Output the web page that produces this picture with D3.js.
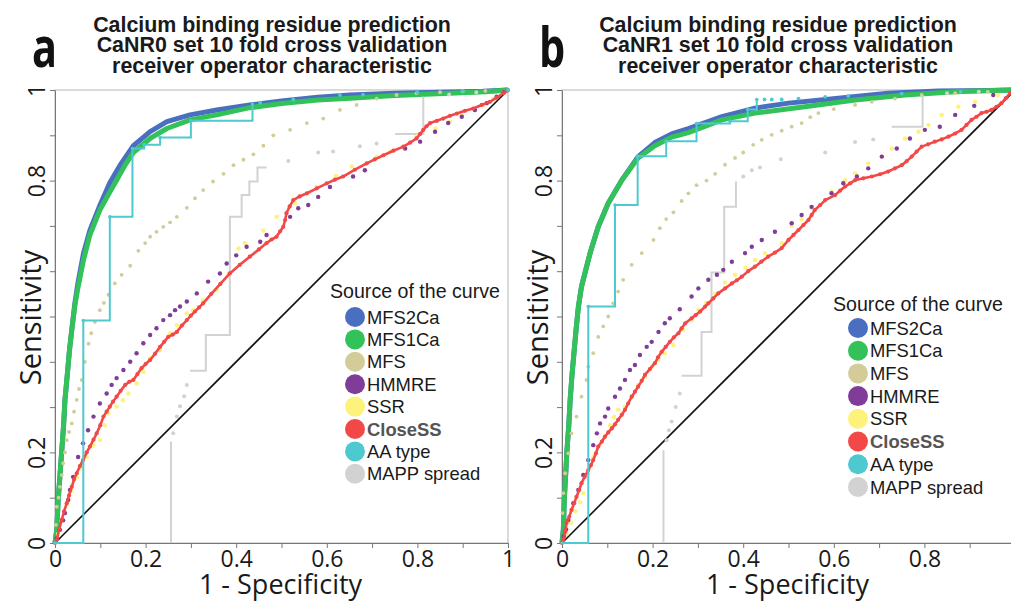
<!DOCTYPE html>
<html>
<head>
<meta charset="utf-8">
<script src="https://cdn.jsdelivr.net/npm/d3@7"></script>
<style>
	body { margin: 0; background: #fff; }
	svg { display: block; }
</style>
</head>
<body>
<svg id="chart" width="1011" height="601"></svg>
<script>
// Legend entries and their colours
const sources = ['MFS2Ca', 'MFS1Ca', 'MFS', 'HMMRE', 'SSR', 'CloseSS', 'AA type', 'MAPP spread'];
const palette = ['#4a6fc1', '#33c25a', '#d3cc98', '#7f3c98', '#fdf27a', '#f34848', '#4fc9d0', '#d2d2d2'];
const tickValues = [0, 0.1, 0.2, 0.3, 0.4, 0.5, 0.6, 0.7, 0.8, 0.9, 1];
const xTickLabels = [0, 0.2, 0.4, 0.6, 0.8, 1];
// 0.4 and 0.6 sit under the axis title in the original, so they are not printed
const yTickLabels = [0, 0.2, 0.8, 1];

// ---- panel a : CaNR0 ----  [1 - specificity, sensitivity]
const a_MFS2Ca = [[0,0],[0.004,0.03],[0.007,0.095],[0.011,0.15],[0.015,0.205],[0.019,0.26],[0.022,0.316],[0.027,0.37],[0.032,0.426],[0.037,0.47],[0.044,0.53],[0.05,0.57],[0.063,0.64],[0.077,0.69],[0.099,0.745],[0.121,0.795],[0.143,0.833],[0.173,0.877],[0.21,0.908],[0.247,0.93],[0.298,0.945],[0.357,0.956],[0.43,0.967],[0.5,0.976],[0.58,0.984],[0.651,0.989],[0.75,0.993],[0.85,0.995],[0.945,0.997],[1,1]];
const a_MFS1Ca = [[0,0],[0.004,0.03],[0.007,0.095],[0.011,0.15],[0.015,0.205],[0.019,0.26],[0.022,0.316],[0.027,0.37],[0.032,0.426],[0.037,0.47],[0.044,0.525],[0.05,0.56],[0.063,0.625],[0.077,0.68],[0.099,0.735],[0.121,0.775],[0.136,0.801],[0.155,0.835],[0.173,0.862],[0.21,0.893],[0.247,0.915],[0.298,0.934],[0.357,0.945],[0.43,0.961],[0.5,0.97],[0.58,0.978],[0.651,0.982],[0.75,0.988],[0.872,0.993],[0.95,0.996],[1,1]];
const a_MFS = [[0.002,0.04],[0.004,0.08],[0.008,0.1],[0.011,0.124],[0.015,0.15],[0.018,0.176],[0.022,0.2],[0.026,0.227],[0.031,0.245],[0.037,0.264],[0.042,0.29],[0.048,0.316],[0.053,0.34],[0.059,0.36],[0.066,0.4],[0.074,0.44],[0.08,0.463],[0.088,0.488],[0.099,0.514],[0.108,0.53],[0.118,0.548],[0.132,0.573],[0.147,0.592],[0.166,0.612],[0.184,0.645],[0.199,0.662],[0.21,0.676],[0.224,0.687],[0.239,0.698],[0.254,0.708],[0.269,0.72],[0.291,0.74],[0.309,0.761],[0.327,0.779],[0.349,0.798],[0.372,0.815],[0.394,0.834],[0.416,0.846],[0.438,0.858],[0.46,0.877],[0.482,0.9],[0.519,0.912],[0.556,0.927],[0.592,0.937],[0.629,0.956],[0.666,0.967],[0.71,0.981],[0.754,0.989],[0.798,0.993],[0.85,0.995],[0.9,0.997],[0.95,0.998]];
const a_HMMRE = [[0.004,0.01],[0.011,0.029],[0.018,0.05],[0.022,0.066],[0.029,0.095],[0.033,0.117],[0.04,0.146],[0.051,0.19],[0.062,0.22],[0.073,0.249],[0.085,0.279],[0.099,0.308],[0.114,0.33],[0.125,0.349],[0.136,0.364],[0.151,0.382],[0.166,0.4],[0.18,0.419],[0.195,0.441],[0.21,0.459],[0.224,0.474],[0.239,0.492],[0.254,0.503],[0.265,0.514],[0.276,0.522],[0.291,0.533],[0.313,0.551],[0.338,0.577],[0.364,0.595],[0.379,0.617],[0.4,0.635],[0.423,0.654],[0.453,0.665],[0.467,0.68],[0.519,0.72],[0.537,0.739],[0.559,0.746],[0.581,0.764],[0.607,0.786],[0.658,0.809],[0.684,0.823],[0.773,0.871],[0.806,0.886],[0.839,0.908],[0.868,0.927],[0.898,0.941],[0.927,0.956],[0.953,0.971],[0.975,0.985],[0.99,0.995]];
const a_SSR = [[0.007,0.02],[0.015,0.05],[0.026,0.085],[0.037,0.115],[0.048,0.145],[0.058,0.165],[0.07,0.19],[0.085,0.215],[0.099,0.227],[0.11,0.26],[0.118,0.286],[0.136,0.301],[0.15,0.315],[0.162,0.33],[0.18,0.352],[0.195,0.378],[0.21,0.408],[0.232,0.426],[0.254,0.463],[0.269,0.481],[0.291,0.507],[0.305,0.514],[0.327,0.536],[0.357,0.558],[0.383,0.595],[0.405,0.65],[0.419,0.662],[0.46,0.69],[0.489,0.72],[0.53,0.75],[0.578,0.786],[0.62,0.81],[0.655,0.831],[0.71,0.853],[0.74,0.864],[0.798,0.897],[0.84,0.915],[0.872,0.93],[0.898,0.945],[0.945,0.967],[0.968,0.981],[0.99,0.995]];
const a_CloseSS = [[0,0],[0.004,0.007],[0.009,0.03],[0.015,0.051],[0.02,0.07],[0.026,0.088],[0.031,0.105],[0.037,0.124],[0.042,0.14],[0.048,0.154],[0.055,0.17],[0.062,0.183],[0.07,0.2],[0.077,0.213],[0.085,0.228],[0.092,0.242],[0.1,0.26],[0.107,0.279],[0.114,0.29],[0.121,0.301],[0.128,0.312],[0.136,0.323],[0.145,0.336],[0.155,0.349],[0.164,0.356],[0.173,0.36],[0.182,0.373],[0.191,0.386],[0.2,0.395],[0.21,0.404],[0.221,0.418],[0.232,0.433],[0.241,0.444],[0.25,0.455],[0.26,0.46],[0.269,0.466],[0.28,0.48],[0.291,0.492],[0.3,0.502],[0.309,0.511],[0.318,0.52],[0.327,0.529],[0.345,0.55],[0.365,0.572],[0.386,0.595],[0.408,0.614],[0.43,0.632],[0.45,0.648],[0.467,0.662],[0.478,0.67],[0.489,0.676],[0.497,0.688],[0.504,0.698],[0.508,0.713],[0.511,0.728],[0.518,0.743],[0.526,0.757],[0.54,0.765],[0.556,0.772],[0.578,0.783],[0.6,0.794],[0.618,0.802],[0.636,0.809],[0.662,0.824],[0.688,0.838],[0.706,0.847],[0.725,0.856],[0.747,0.866],[0.769,0.875],[0.784,0.884],[0.798,0.893],[0.806,0.903],[0.813,0.912],[0.82,0.92],[0.828,0.927],[0.843,0.932],[0.857,0.937],[0.872,0.943],[0.887,0.948],[0.905,0.954],[0.923,0.959],[0.942,0.967],[0.96,0.974],[0.975,0.983],[0.99,0.993],[1,1]];
const a_AAtype = [[0,0],[0.0625,0.491],[0.121,0.72],[0.171,0.871],[0.197,0.879],[0.232,0.895],[0.3,0.932],[0.436,0.969]];
const a_AAtypeDots = [[0.453,0.972],[0.526,0.979],[0.629,0.989],[0.68,0.99],[0.8,0.995],[0.9,0.998],[1,1]];
const a_MAPPsteps = [
	[[0.256,0],[0.256,0.224]],
	[[0.298,0.38],[0.333,0.459],[0.386,0.72],[0.412,0.768],[0.429,0.798],[0.447,0.829],[0.467,0.829]],
	[[0.751,0.903],[0.813,0.985]],
];
const a_MAPPdots = [[0.261,0.242],[0.269,0.279],[0.276,0.302],[0.285,0.324],[0.291,0.349],[0.515,0.843],[0.581,0.862],[0.614,0.864],[0.673,0.876],[0.71,0.882],[0.87,0.99],[0.93,0.995]];

// ---- panel b : CaNR1 ----
const b_MFS2Ca = [[0,0],[0.003,0.03],[0.005,0.095],[0.008,0.15],[0.011,0.205],[0.015,0.26],[0.018,0.316],[0.022,0.37],[0.027,0.426],[0.031,0.47],[0.036,0.52],[0.043,0.566],[0.062,0.64],[0.08,0.698],[0.102,0.75],[0.132,0.801],[0.168,0.853],[0.205,0.884],[0.242,0.903],[0.279,0.915],[0.353,0.941],[0.426,0.96],[0.5,0.971],[0.61,0.982],[0.72,0.993],[0.831,0.998],[0.94,0.999],[1,1]];
const b_MFS1Ca = [[0,0],[0.003,0.03],[0.005,0.095],[0.008,0.15],[0.011,0.205],[0.015,0.26],[0.018,0.316],[0.022,0.37],[0.027,0.426],[0.031,0.47],[0.036,0.52],[0.043,0.566],[0.062,0.64],[0.08,0.698],[0.102,0.75],[0.132,0.801],[0.168,0.85],[0.205,0.877],[0.242,0.896],[0.279,0.906],[0.353,0.934],[0.426,0.949],[0.536,0.963],[0.647,0.978],[0.757,0.989],[0.868,0.996],[1,1]];
const b_MFS = [[0.001,0.066],[0.003,0.11],[0.007,0.154],[0.014,0.198],[0.021,0.242],[0.032,0.279],[0.043,0.323],[0.054,0.36],[0.058,0.389],[0.069,0.419],[0.08,0.455],[0.091,0.478],[0.102,0.5],[0.113,0.529],[0.124,0.555],[0.135,0.581],[0.154,0.614],[0.176,0.64],[0.202,0.669],[0.216,0.695],[0.23,0.715],[0.246,0.73],[0.264,0.755],[0.279,0.772],[0.297,0.79],[0.319,0.8],[0.338,0.815],[0.36,0.835],[0.382,0.85],[0.4,0.862],[0.422,0.879],[0.441,0.89],[0.463,0.901],[0.485,0.91],[0.507,0.919],[0.529,0.927],[0.548,0.94],[0.566,0.949],[0.6,0.958],[0.647,0.967],[0.684,0.974],[0.735,0.981],[0.794,0.989],[0.868,0.993],[0.94,0.996]];
const b_HMMRE = [[0.004,0.015],[0.009,0.03],[0.014,0.051],[0.025,0.088],[0.036,0.117],[0.047,0.15],[0.058,0.183],[0.069,0.216],[0.077,0.242],[0.084,0.264],[0.095,0.279],[0.102,0.297],[0.117,0.323],[0.128,0.341],[0.139,0.36],[0.15,0.382],[0.161,0.393],[0.172,0.415],[0.187,0.433],[0.198,0.444],[0.213,0.466],[0.227,0.485],[0.238,0.496],[0.26,0.516],[0.286,0.544],[0.301,0.562],[0.323,0.581],[0.342,0.592],[0.356,0.603],[0.375,0.621],[0.404,0.64],[0.419,0.654],[0.441,0.669],[0.47,0.687],[0.507,0.706],[0.529,0.724],[0.551,0.742],[0.595,0.772],[0.621,0.794],[0.651,0.809],[0.676,0.827],[0.706,0.853],[0.739,0.871],[0.768,0.893],[0.801,0.912],[0.834,0.919],[0.868,0.945],[0.91,0.965],[0.952,0.989]];
const b_SSR = [[0.01,0.02],[0.02,0.045],[0.03,0.07],[0.04,0.09],[0.047,0.11],[0.058,0.154],[0.069,0.19],[0.08,0.213],[0.095,0.235],[0.106,0.26],[0.115,0.278],[0.124,0.294],[0.139,0.301],[0.154,0.323],[0.168,0.349],[0.183,0.367],[0.198,0.389],[0.213,0.404],[0.227,0.419],[0.246,0.437],[0.268,0.47],[0.286,0.492],[0.301,0.515],[0.318,0.53],[0.338,0.55],[0.36,0.575],[0.382,0.592],[0.405,0.608],[0.426,0.625],[0.448,0.64],[0.485,0.662],[0.507,0.7],[0.529,0.715],[0.551,0.739],[0.595,0.776],[0.625,0.801],[0.647,0.816],[0.676,0.838],[0.706,0.853],[0.728,0.871],[0.757,0.893],[0.787,0.908],[0.809,0.923],[0.838,0.945],[0.875,0.963],[0.912,0.974],[0.963,0.989]];
const b_CloseSS = [[0,0],[0.003,0.007],[0.007,0.025],[0.01,0.044],[0.016,0.058],[0.021,0.073],[0.027,0.088],[0.032,0.102],[0.038,0.117],[0.043,0.132],[0.05,0.146],[0.058,0.161],[0.064,0.172],[0.069,0.183],[0.075,0.198],[0.08,0.213],[0.088,0.224],[0.095,0.235],[0.102,0.244],[0.11,0.253],[0.117,0.262],[0.124,0.272],[0.132,0.283],[0.139,0.294],[0.146,0.308],[0.154,0.323],[0.161,0.334],[0.168,0.345],[0.176,0.358],[0.183,0.371],[0.194,0.384],[0.205,0.397],[0.212,0.41],[0.22,0.422],[0.229,0.433],[0.238,0.444],[0.247,0.454],[0.257,0.463],[0.264,0.474],[0.272,0.485],[0.286,0.496],[0.295,0.503],[0.305,0.511],[0.316,0.522],[0.323,0.529],[0.334,0.54],[0.345,0.551],[0.36,0.562],[0.375,0.573],[0.386,0.58],[0.397,0.588],[0.411,0.6],[0.426,0.61],[0.44,0.621],[0.455,0.632],[0.47,0.641],[0.485,0.651],[0.5,0.669],[0.511,0.68],[0.522,0.691],[0.533,0.702],[0.544,0.713],[0.551,0.724],[0.558,0.735],[0.57,0.746],[0.581,0.757],[0.603,0.768],[0.614,0.778],[0.625,0.787],[0.636,0.794],[0.647,0.801],[0.665,0.805],[0.684,0.809],[0.702,0.814],[0.72,0.82],[0.735,0.827],[0.75,0.834],[0.761,0.843],[0.772,0.853],[0.783,0.864],[0.794,0.875],[0.808,0.88],[0.823,0.886],[0.838,0.891],[0.853,0.897],[0.868,0.904],[0.882,0.912],[0.893,0.923],[0.904,0.934],[0.915,0.941],[0.926,0.949],[0.937,0.952],[0.948,0.956],[0.959,0.963],[0.97,0.971],[0.98,0.982],[0.989,0.993],[1,1]];
const b_AAtype = [[0,0],[0.058,0.522],[0.117,0.746],[0.167,0.854],[0.23,0.887],[0.297,0.926],[0.371,0.931],[0.41,0.957],[0.43,0.979]];
const b_AAtypeDots = [[0.447,0.979],[0.463,0.979],[0.485,0.979],[0.522,0.981],[0.581,0.985],[0.632,0.987],[0.75,0.992],[0.88,0.996]];
const b_MAPPsteps = [
	[[0.224,0],[0.224,0.205]],
	[[0.264,0.369],[0.308,0.466],[0.33,0.597],[0.358,0.742],[0.384,0.798]],
	[[0.728,0.919],[0.796,0.989]],
];
const b_MAPPdots = [[0.231,0.227],[0.236,0.249],[0.242,0.268],[0.251,0.3],[0.26,0.33],[0.4,0.809],[0.419,0.823],[0.437,0.829],[0.483,0.847],[0.581,0.862],[0.647,0.885],[0.687,0.891],[0.85,0.993],[0.92,0.996]];

const panels = [
	{
		letter: 'a', left: 55, titleX: 272,
		title: ['Calcium binding residue prediction', 'CaNR0 set 10 fold cross validation', 'receiver operator characteristic'],
		legend: { x: 330, y: 298, cx: 355, cy: 317, step: 22.4 },
		curves: [a_MFS2Ca, a_MFS1Ca, a_MFS, a_HMMRE, a_SSR, a_CloseSS, a_AAtype, a_AAtypeDots, a_MAPPsteps, a_MAPPdots],
	},
	{
		letter: 'b', left: 562, titleX: 778,
		title: ['Calcium binding residue prediction', 'CaNR1 set 10 fold cross validation', 'receiver operator characteristic'],
		legend: { x: 833, y: 311, cx: 858, cy: 328, step: 22.7 },
		curves: [b_MFS2Ca, b_MFS1Ca, b_MFS, b_HMMRE, b_SSR, b_CloseSS, b_AAtype, b_AAtypeDots, b_MAPPsteps, b_MAPPdots],
	},
];

const svg = d3.select('#chart');
const plotSize = 453;
const plotTop = 90;
const labelFont = "'Open Sans', sans-serif";
const arial = "'Liberation Sans', Arial, sans-serif";

function drawPanel(p) {
	const [mfs2, mfs1, mfs, hmm, ssr, close, aa, aaDots, mappSteps, mappDots] = p.curves;
	const x = d3.scaleLinear().domain([0, 1]).range([p.left, p.left + plotSize]);
	const y = d3.scaleLinear().domain([0, 1]).range([plotTop + plotSize, plotTop]);
	const g = svg.append('g');

	// frame
	g.append('rect')
		.attr('x', x(0)).attr('y', y(1)).attr('width', plotSize).attr('height', plotSize)
		.attr('fill', 'none').attr('stroke', '#b5b5b5').attr('stroke-width', 1);

	const fmt = labels => d => (labels.some(v => Math.abs(v - d) < 1e-9) ? d3.format('~g')(d) : '');

	const gx = g.append('g').attr('transform', `translate(0,${y(0)})`)
		.call(d3.axisBottom(x).tickValues(tickValues).tickFormat(fmt(xTickLabels)).tickSize(5).tickSizeOuter(0).tickPadding(3));
	gx.selectAll('text').attr('font-family', labelFont).attr('font-size', 23).attr('fill', '#1a1a1a');

	const gy = g.append('g').attr('transform', `translate(${x(0)},0)`)
		.call(d3.axisLeft(y).tickValues(tickValues).tickFormat(fmt(yTickLabels)).tickSize(5).tickSizeOuter(0));
	gy.selectAll('text')
		.attr('x', null).attr('dy', null)
		.attr('transform', 'translate(-19,0) rotate(-90)')
		.attr('text-anchor', 'middle').attr('dominant-baseline', 'central')
		.attr('font-family', labelFont).attr('font-size', 23).attr('fill', '#1a1a1a');
	g.selectAll('.domain, .tick line').attr('stroke', '#777');

	// axis titles
	g.append('text')
		.attr('x', x(0.5) - 1).attr('y', 594)
		.attr('text-anchor', 'middle').attr('font-family', labelFont).attr('font-size', 27).attr('fill', '#1a1a1a')
		.text('1 - Specificity');
	g.append('text')
		.attr('transform', `translate(${x(0) - 14},${y(0.5) + 1}) rotate(-90)`)
		.attr('text-anchor', 'middle').attr('font-family', labelFont).attr('font-size', 29).attr('fill', '#1a1a1a')
		.text('Sensitivity');

	// chance diagonal
	g.append('line')
		.attr('x1', x(0)).attr('y1', y(0)).attr('x2', x(1)).attr('y2', y(1))
		.attr('stroke', '#111').attr('stroke-width', 1.6);

	const line = d3.line().x(d => x(d[0])).y(d => y(d[1]));
	const step = d3.line().x(d => x(d[0])).y(d => y(d[1])).curve(d3.curveStepAfter);

	const dots = (data, color, r) => g.append('g').selectAll('circle').data(data).join('circle')
		.attr('cx', d => x(d[0])).attr('cy', d => y(d[1])).attr('r', r).attr('fill', color);

	// MFS2Ca and MFS1Ca: dense point clouds drawn as thick lines
	g.append('path').datum(mfs2).attr('d', line).attr('fill', 'none')
		.attr('stroke', palette[0]).attr('stroke-width', 5).attr('stroke-linejoin', 'round');
	g.append('path').datum(mfs1).attr('d', line).attr('fill', 'none')
		.attr('stroke', palette[1]).attr('stroke-width', 5).attr('stroke-linejoin', 'round');

	dots(mfs, palette[2], 1.9);

	// MAPP spread
	mappSteps.forEach((seg) => {
		g.append('path').datum(seg).attr('d', step).attr('fill', 'none')
			.attr('stroke', palette[7]).attr('stroke-width', 2);
	});
	dots(mappDots, palette[7], 2);

	dots(ssr, palette[4], 2.2);
	dots(hmm, palette[3], 2.2);

	g.append('path').datum(close).attr('d', line).attr('fill', 'none')
		.attr('stroke', palette[5]).attr('stroke-width', 2.6).attr('stroke-linejoin', 'round');
	dots(close, palette[5], 2.1);

	// AA type step curve
	g.append('path').datum(aa).attr('d', step).attr('fill', 'none')
		.attr('stroke', palette[6]).attr('stroke-width', 2);
	dots(aa, palette[6], 1.8);
	dots(aaDots, palette[6], 1.9);

	// titles
	const t = g.append('text').attr('text-anchor', 'middle')
		.attr('font-family', arial).attr('font-weight', 'bold')
		.attr('font-size', 21.4).attr('fill', '#1a1a1a');
	p.title.forEach((s, i) => {
		t.append('tspan').attr('x', p.titleX).attr('y', 31.5 + i * 20.5).text(s);
	});
	g.append('text')
		.attr('transform', `translate(${p.left - 23},67) scale(0.74,1)`)
		.attr('font-family', labelFont)
		.attr('font-weight', 'bold').attr('font-size', 56).attr('fill', '#111')
		.text(p.letter);

	// legend
	const lg = g.append('g');
	lg.append('text').attr('x', p.legend.x).attr('y', p.legend.y)
		.attr('font-family', arial).attr('font-size', 19.6).attr('fill', '#1a1a1a')
		.text('Source of the curve');
	const items = lg.selectAll('g.item').data(sources).join('g').attr('class', 'item')
		.attr('transform', (d, i) => `translate(0,${p.legend.cy + i * p.legend.step})`);
	items.append('circle').attr('cx', p.legend.cx).attr('cy', 0).attr('r', 10)
		.attr('fill', (d, i) => palette[i]);
	items.append('text').attr('x', p.legend.cx + 12).attr('y', 6.6)
		.attr('font-family', arial).attr('font-size', 18.4)
		.attr('font-weight', d => (d === 'CloseSS' ? 'bold' : 'normal'))
		.attr('fill', d => (d === 'CloseSS' ? '#555' : '#1a1a1a'))
		.text(d => d);
}

panels.forEach(drawPanel);
</script>
</body>
</html>
